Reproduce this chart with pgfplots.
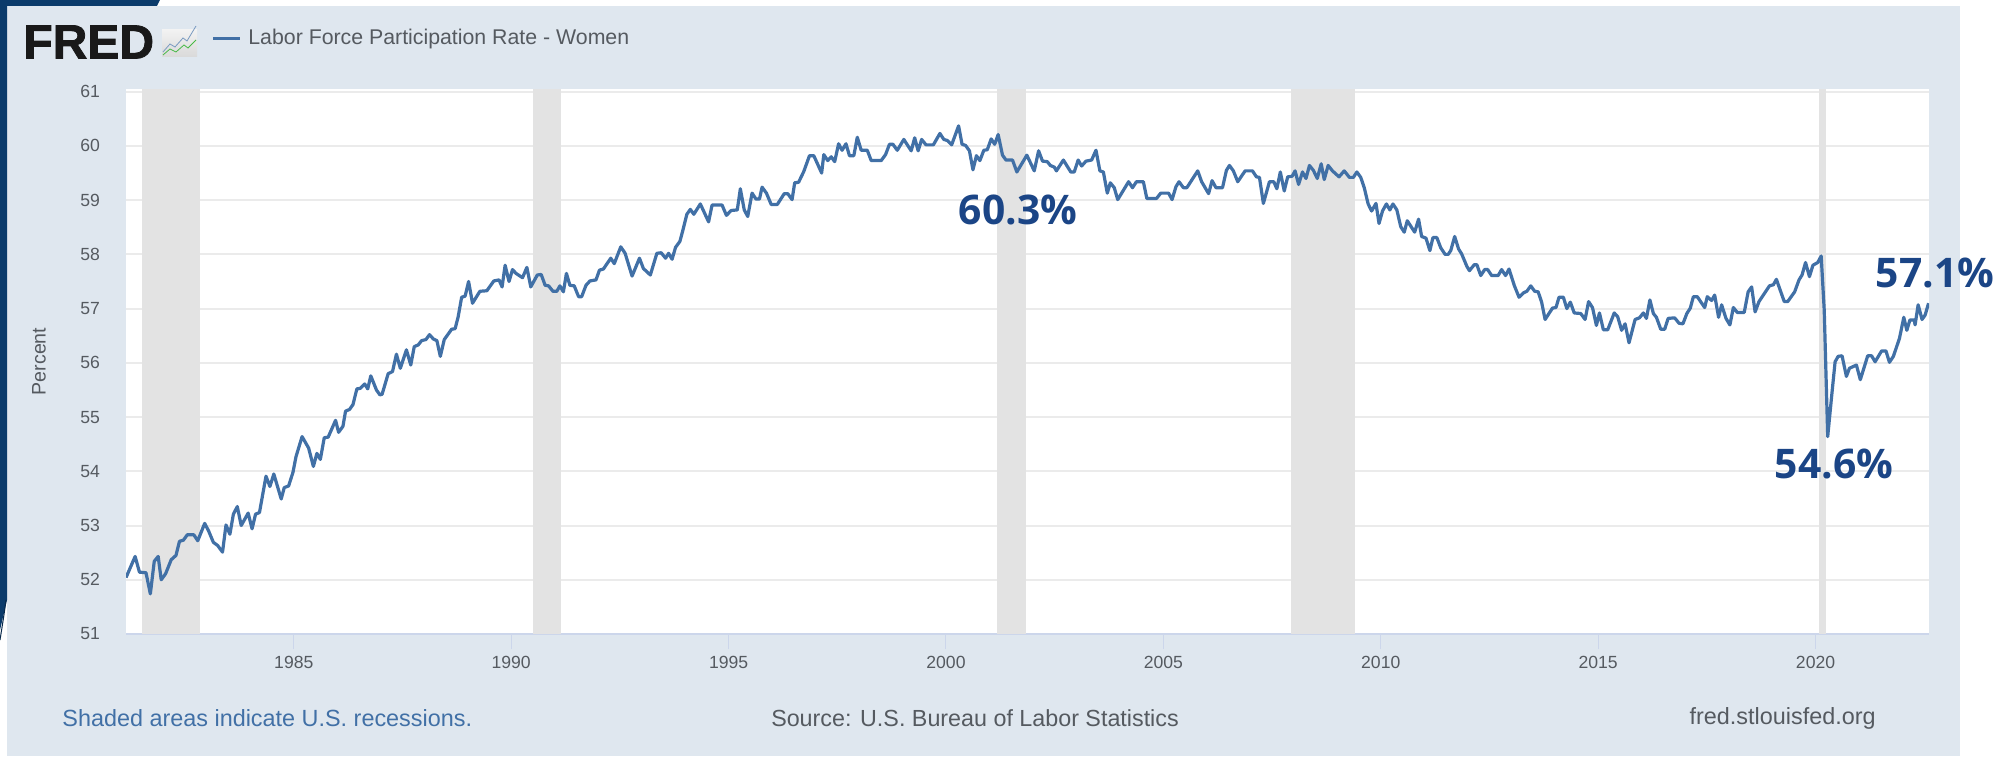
\documentclass[border=0pt]{standalone}
\usepackage{pgfplots}
\pgfplotsset{compat=1.18}
\usepackage{fontspec}
\setmainfont{Liberation Sans}
\newfontfamily\notefont{Open Sans}
\newfontfamily\logofont[BoldFeatures={FakeBold=1.6}]{Liberation Sans}
\definecolor{panel}{HTML}{DFE7EF}
\definecolor{navy}{HTML}{0B3B6B}
\definecolor{fredline}{HTML}{4170A6}
\definecolor{gridc}{HTML}{EBEBEB}
\definecolor{bandc}{HTML}{E3E3E3}
\definecolor{axisc}{HTML}{CCD6EB}
\definecolor{labc}{HTML}{555A60}
\definecolor{notec}{HTML}{1B4586}
% pixel position in the 2003x756 reference
\newcommand{\PX}[2]{({(#1)*0.5pt},{(756-(#2))*0.5pt})}
\begin{document}
\begin{tikzpicture}
\path[use as bounding box] (0,0) rectangle (1001.5pt,378pt);
\fill[panel] \PX{7}{6} rectangle \PX{1960}{756};
\fill[navy] \PX{0}{0} -- \PX{160}{0} -- \PX{157}{6} -- \PX{7}{6} -- \PX{7}{600} -- \PX{0}{630} -- cycle;
\draw[navy!70!black, line width=0.5pt] \PX{6}{600} .. controls \PX{4}{615} .. \PX{0}{640};
% logo
\node[anchor=west, inner sep=0pt, text=black!90, font=\logofont\bfseries\fontsize{24}{25}\selectfont] at \PX{23}{42} {FRED};
\shade[top color=white!90!gray, bottom color=black!15] \PX{162}{30} rectangle \PX{197}{57};
\draw[fredline!70, line width=0.4pt] \PX{163}{52} -- \PX{170}{44} -- \PX{175}{47} -- \PX{183}{38} -- \PX{187}{41} -- \PX{196}{26};
\draw[green!45!gray, line width=0.4pt] \PX{163}{55} -- \PX{170}{49} -- \PX{176}{52} -- \PX{184}{45} -- \PX{188}{48} -- \PX{196}{40};
% legend
\draw[fredline, line width=1.5pt] \PX{213}{39} -- \PX{240}{39};
\node[anchor=west, inner sep=0pt, text=labc, font=\fontsize{10.65}{12}\selectfont] at \PX{248}{39} {Labor Force Participation Rate - Women};
\begin{axis}[
  at={(63pt,61pt)}, anchor=south west,
  scale only axis, width=901.5pt, height=272.5pt,
  xmin=1981.14, xmax=2022.61, ymin=51, ymax=61.05,
  axis x line*=bottom, axis y line*=left,
  x axis line style={-, draw=axisc, line width=0.6pt},
  y axis line style={draw=none},
  axis background/.style={fill=white},
  xtick={1985,1990,...,2020}, ytick={51,...,61},
  xtick style={draw=axisc, line width=0.5pt}, ytick style={draw=none},
  tick align=outside, major tick length=7.5pt,
  ymajorgrids, grid style={gridc, line width=1pt},
  /pgf/number format/assume math mode=true,
  /pgf/number format/1000 sep={},
  tick label style={text=labc, font=\fontsize{8.8}{10}\selectfont},
  yticklabel style={xshift=-2pt},
  ylabel={Percent},
  ylabel style={text=labc, font=\fontsize{9.8}{11}\selectfont, at={(axis description cs:-0.0483,0.5)}, anchor=center},
]
% recessions
\addplot[fill=bandc, draw=none] coordinates {(1981.50,51)(1981.50,61.05)(1982.85,61.05)(1982.85,51)};
\addplot[fill=bandc, draw=none] coordinates {(1990.50,51)(1990.50,61.05)(1991.15,61.05)(1991.15,51)};
\addplot[fill=bandc, draw=none] coordinates {(2001.18,51)(2001.18,61.05)(2001.83,61.05)(2001.83,51)};
\addplot[fill=bandc, draw=none] coordinates {(2007.93,51)(2007.93,61.05)(2009.40,61.05)(2009.40,51)};
\addplot[fill=bandc, draw=none] coordinates {(2020.09,51)(2020.09,61.05)(2020.25,61.05)(2020.25,51)};
\addplot[fredline, line width=1.6pt, line join=round] coordinates {
(1981.14,52.04)(1981.35,52.43)(1981.45,52.14)(1981.6,52.13)(1981.7,51.74)(1981.79,52.34)(1981.88,52.43)(1981.95,52.0)
(1982.05,52.11)(1982.18,52.37)(1982.29,52.45)(1982.37,52.71)(1982.46,52.73)(1982.55,52.83)(1982.7,52.83)(1982.79,52.72)
(1982.95,53.04)(1983.04,52.9)(1983.15,52.69)(1983.25,52.63)(1983.36,52.51)(1983.44,53.01)(1983.53,52.84)(1983.61,53.21)
(1983.7,53.35)(1983.79,53.0)(1983.95,53.23)(1984.04,52.94)(1984.12,53.21)(1984.21,53.24)(1984.36,53.91)(1984.45,53.72)
(1984.54,53.95)(1984.71,53.49)(1984.78,53.7)(1984.88,53.73)(1984.98,53.98)(1985.05,54.27)(1985.19,54.64)(1985.34,54.43)
(1985.45,54.09)(1985.53,54.33)(1985.61,54.22)(1985.7,54.62)(1985.79,54.63)(1985.96,54.94)(1986.03,54.72)(1986.13,54.83)
(1986.19,55.11)(1986.28,55.14)(1986.36,55.23)(1986.45,55.52)(1986.53,55.53)(1986.63,55.61)(1986.7,55.52)(1986.77,55.76)
(1986.9,55.5)(1986.98,55.41)(1987.03,55.42)(1987.17,55.8)(1987.27,55.84)(1987.36,56.16)(1987.45,55.9)(1987.59,56.24)
(1987.69,55.96)(1987.77,56.3)(1987.86,56.33)(1987.94,56.41)(1988.04,56.43)(1988.12,56.52)(1988.21,56.44)(1988.29,56.41)
(1988.37,56.12)(1988.46,56.43)(1988.63,56.62)(1988.71,56.63)(1988.78,56.85)(1988.86,57.21)(1988.94,57.23)(1989.02,57.5)
(1989.11,57.1)(1989.28,57.32)(1989.44,57.33)(1989.6,57.51)(1989.72,57.53)(1989.79,57.4)(1989.86,57.8)(1989.95,57.5)
(1990.03,57.72)(1990.11,57.65)(1990.26,57.57)(1990.36,57.76)(1990.45,57.4)(1990.6,57.62)(1990.69,57.63)(1990.78,57.43)
(1990.86,57.42)(1990.96,57.32)(1991.05,57.32)(1991.12,57.42)(1991.2,57.31)(1991.27,57.65)(1991.35,57.43)(1991.45,57.42)
(1991.55,57.22)(1991.62,57.22)(1991.72,57.43)(1991.81,57.51)(1991.95,57.53)(1992.03,57.71)(1992.12,57.73)(1992.29,57.93)
(1992.37,57.83)(1992.52,58.14)(1992.62,58.02)(1992.78,57.6)(1992.95,57.93)(1993.04,57.74)(1993.2,57.62)(1993.35,58.02)
(1993.45,58.03)(1993.55,57.93)(1993.62,58.02)(1993.7,57.91)(1993.78,58.13)(1993.88,58.24)(1993.95,58.45)(1994.04,58.74)
(1994.12,58.83)(1994.2,58.74)(1994.35,58.93)(1994.54,58.6)(1994.62,58.91)(1994.85,58.91)(1994.95,58.72)(1995.06,58.81)
(1995.2,58.82)(1995.27,59.21)(1995.36,58.82)(1995.44,58.7)(1995.54,59.13)(1995.63,59.02)(1995.71,59.02)(1995.77,59.24)
(1995.87,59.13)(1995.98,58.92)(1996.12,58.92)(1996.28,59.12)(1996.36,59.12)(1996.46,59.01)(1996.52,59.32)(1996.61,59.33)
(1996.73,59.53)(1996.86,59.82)(1996.96,59.82)(1997.14,59.5)(1997.19,59.84)(1997.28,59.73)(1997.36,59.8)(1997.44,59.71)
(1997.53,60.04)(1997.61,59.92)(1997.7,60.04)(1997.78,59.82)(1997.88,59.82)(1997.96,60.16)(1998.05,59.92)(1998.19,59.92)
(1998.28,59.73)(1998.51,59.73)(1998.61,59.84)(1998.7,60.03)(1998.78,60.03)(1998.88,59.92)(1999.03,60.12)(1999.2,59.91)
(1999.28,60.15)(1999.36,59.91)(1999.44,60.12)(1999.54,60.02)(1999.71,60.02)(1999.86,60.23)(1999.95,60.12)(2000.03,60.1)
(2000.13,60.02)(2000.29,60.37)(2000.37,60.03)(2000.45,60.01)(2000.54,59.91)(2000.62,59.56)(2000.7,59.82)(2000.78,59.73)
(2000.87,59.92)(2000.95,59.93)(2001.04,60.13)(2001.12,60.03)(2001.2,60.21)(2001.3,59.83)(2001.38,59.74)(2001.53,59.74)
(2001.63,59.52)(2001.86,59.83)(2002.03,59.54)(2002.13,59.91)(2002.22,59.72)(2002.33,59.71)(2002.4,59.64)(2002.49,59.61)
(2002.54,59.54)(2002.7,59.74)(2002.87,59.52)(2002.95,59.52)(2003.04,59.74)(2003.12,59.63)(2003.22,59.72)(2003.35,59.74)
(2003.45,59.92)(2003.54,59.54)(2003.62,59.52)(2003.71,59.13)(2003.78,59.32)(2003.87,59.23)(2003.95,59.01)(2004.2,59.34)
(2004.29,59.23)(2004.38,59.34)(2004.54,59.34)(2004.62,59.03)(2004.84,59.03)(2004.94,59.13)(2005.12,59.13)(2005.2,59.01)
(2005.29,59.25)(2005.36,59.34)(2005.46,59.23)(2005.54,59.23)(2005.79,59.54)(2005.88,59.34)(2006.04,59.12)(2006.12,59.36)
(2006.21,59.23)(2006.36,59.23)(2006.45,59.55)(2006.52,59.64)(2006.61,59.54)(2006.71,59.34)(2006.88,59.54)(2007.05,59.54)
(2007.14,59.43)(2007.21,59.42)(2007.3,58.94)(2007.44,59.34)(2007.54,59.34)(2007.61,59.21)(2007.69,59.52)(2007.78,59.17)
(2007.86,59.43)(2007.96,59.44)(2008.03,59.54)(2008.11,59.29)(2008.2,59.52)(2008.28,59.4)(2008.36,59.64)(2008.45,59.55)
(2008.54,59.4)(2008.63,59.67)(2008.7,59.38)(2008.79,59.64)(2008.89,59.54)(2009.04,59.43)(2009.16,59.54)(2009.28,59.42)
(2009.37,59.42)(2009.45,59.52)(2009.54,59.42)(2009.62,59.23)(2009.71,58.93)(2009.79,58.8)(2009.89,58.94)(2009.96,58.57)
(2010.04,58.8)(2010.13,58.93)(2010.21,58.82)(2010.28,58.93)(2010.37,58.82)(2010.46,58.51)(2010.54,58.41)(2010.61,58.62)
(2010.78,58.41)(2010.87,58.65)(2010.94,58.33)(2011.04,58.3)(2011.13,58.07)(2011.2,58.31)(2011.29,58.31)(2011.38,58.12)
(2011.48,58.0)(2011.55,58.0)(2011.61,58.07)(2011.7,58.33)(2011.79,58.1)(2011.86,58.01)(2011.98,57.78)(2012.04,57.7)
(2012.15,57.81)(2012.21,57.81)(2012.3,57.61)(2012.39,57.72)(2012.46,57.72)(2012.55,57.61)(2012.7,57.61)(2012.78,57.72)
(2012.87,57.61)(2012.95,57.73)(2013.07,57.43)(2013.18,57.21)(2013.28,57.29)(2013.36,57.32)(2013.45,57.42)(2013.54,57.32)
(2013.62,57.31)(2013.7,57.12)(2013.78,56.8)(2013.95,57.01)(2014.03,57.02)(2014.1,57.21)(2014.2,57.21)(2014.28,57.0)
(2014.36,57.12)(2014.45,56.92)(2014.6,56.91)(2014.7,56.8)(2014.78,57.13)(2014.87,57.02)(2014.96,56.69)(2015.03,56.92)
(2015.12,56.61)(2015.22,56.61)(2015.37,56.92)(2015.45,56.85)(2015.54,56.6)(2015.62,56.72)(2015.71,56.37)(2015.85,56.8)
(2015.95,56.83)(2016.04,56.92)(2016.11,56.82)(2016.19,57.16)(2016.27,56.91)(2016.34,56.84)(2016.44,56.62)(2016.53,56.62)
(2016.61,56.82)(2016.76,56.83)(2016.86,56.73)(2016.95,56.72)(2017.04,56.91)(2017.12,57.01)(2017.19,57.22)(2017.28,57.22)
(2017.45,57.02)(2017.51,57.22)(2017.61,57.15)(2017.68,57.25)(2017.77,56.84)(2017.84,57.07)(2017.94,56.82)(2018.03,56.7)
(2018.11,57.02)(2018.2,56.93)(2018.36,56.93)(2018.45,57.31)(2018.53,57.4)(2018.61,56.94)(2018.7,57.13)(2018.94,57.42)
(2019.03,57.44)(2019.1,57.54)(2019.28,57.13)(2019.36,57.13)(2019.52,57.31)(2019.62,57.53)(2019.69,57.62)(2019.77,57.85)
(2019.86,57.59)(2019.94,57.8)(2020.05,57.85)(2020.13,57.97)(2020.2,56.97)(2020.28,54.64)(2020.37,55.38)(2020.45,56.02)
(2020.52,56.12)(2020.61,56.13)(2020.71,55.75)(2020.78,55.9)(2020.94,55.96)(2021.03,55.69)(2021.2,56.13)(2021.29,56.13)
(2021.37,56.02)(2021.52,56.22)(2021.62,56.22)(2021.7,56.01)(2021.79,56.12)(2021.93,56.45)(2022.03,56.84)(2022.1,56.6)
(2022.17,56.79)(2022.27,56.79)(2022.29,56.7)(2022.36,57.07)(2022.45,56.8)(2022.52,56.88)(2022.6,57.1)
};
\end{axis}
% footer
\node[anchor=west, inner sep=0pt, text=fredline, font=\fontsize{11.7}{13}\selectfont] at \PX{62}{718} {Shaded areas indicate U.S. recessions.};
\node[inner sep=0pt, text=labc, font=\fontsize{11.65}{13}\selectfont] at \PX{975}{718} {Source: U.S. Bureau of Labor Statistics};
\node[anchor=east, inner sep=0pt, text=labc, font=\fontsize{11.7}{13}\selectfont] at \PX{1876}{718} {fred.stlouisfed.org};
% annotations
\node[inner sep=0pt, text=notec, font=\notefont\bfseries\fontsize{20.4}{24}\selectfont] at \PX{1018}{209.5} {60.3\%};
\node[inner sep=0pt, text=notec, font=\notefont\bfseries\fontsize{20.4}{24}\selectfont] at \PX{1834}{464} {54.6\%};
\node[inner sep=0pt, text=notec, font=\notefont\bfseries\fontsize{20.4}{24}\selectfont] at \PX{1935}{273} {57.1\%};
\end{tikzpicture}
\end{document}
